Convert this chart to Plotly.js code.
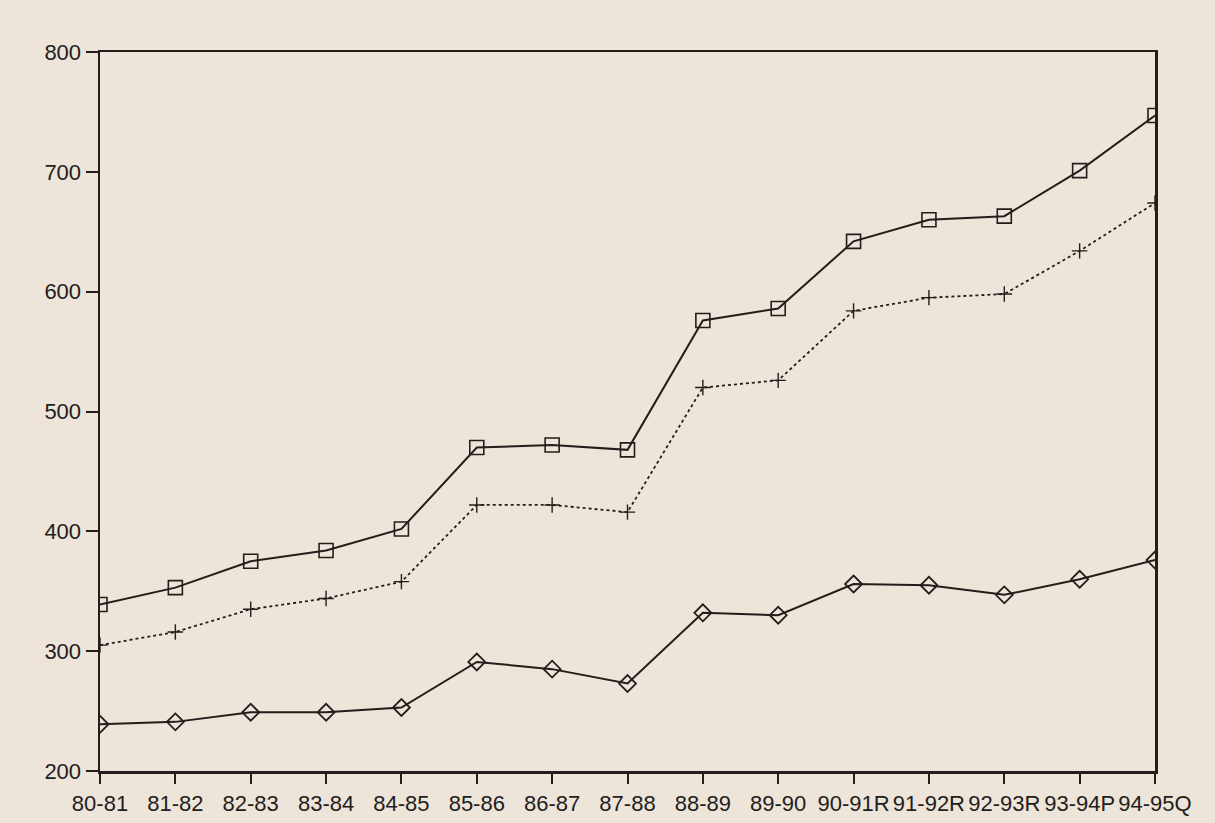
<!DOCTYPE html>
<html>
<head>
<meta charset="utf-8">
<script src="https://cdn.plot.ly/plotly-3.0.1.min.js"></script>
<style>
  html, body { margin: 0; padding: 0; background: #ede4da; }
  #chart { width: 1215px; height: 823px; }
</style>
</head>
<body>
<div id="chart"></div>
<script>
// Categories (years)
const years = ["80-81", "81-82", "82-83", "83-84", "84-85", "85-86", "86-87", "87-88",
               "88-89", "89-90", "90-91R", "91-92R", "92-93R", "93-94P", "94-95Q"];

// Series values
const seriesSquare  = [339, 353, 375, 384, 402, 470, 472, 468, 576, 586, 642, 660, 663, 701, 747];
const seriesCross   = [305, 316, 335, 344, 358, 422, 422, 416, 520, 526, 584, 595, 598, 634, 674];
const seriesDiamond = [239, 241, 249, 249, 253, 291, 285, 273, 332, 330, 356, 355, 347, 360, 376];

// Y-axis ticks
const yTicks = [200, 300, 400, 500, 600, 700, 800];

const ink = "#231e1b";

const traces = [
  {
    x: years, y: seriesSquare, type: "scatter", mode: "lines+markers",
    line: { color: ink, width: 2 },
    marker: { symbol: "square-open", size: 14, color: ink, line: { width: 1.6, color: ink } },
    name: "square"
  },
  {
    x: years, y: seriesCross, type: "scatter", mode: "lines+markers",
    line: { color: ink, width: 1.8, dash: "dot" },
    marker: { symbol: "cross-thin-open", size: 11, color: ink, line: { width: 1.4, color: ink } },
    name: "cross"
  },
  {
    x: years, y: seriesDiamond, type: "scatter", mode: "lines+markers",
    line: { color: ink, width: 2 },
    marker: { symbol: "diamond-open", size: 13, color: ink, line: { width: 1.8, color: ink } },
    name: "diamond"
  }
];

const layout = {
  width: 1215, height: 823,
  paper_bgcolor: "#ede4da",
  plot_bgcolor: "#ede4da",
  showlegend: false,
  margin: { l: 100, r: 60, t: 52, b: 52 },
  font: { family: "Liberation Sans, Arial, sans-serif", color: ink, size: 22 },
  xaxis: {
    type: "category",
    range: [0, 14],
    showgrid: false, zeroline: false,
    showline: true, linecolor: ink, linewidth: 2.5, mirror: true,
    ticks: "outside", ticklen: 10, tickwidth: 2, tickcolor: ink,
    tickangle: 0,
    ticklabelstandoff: 1,
    tickfont: { size: 22, color: ink }
  },
  yaxis: {
    range: [200, 800],
    tickvals: yTicks,
    ticktext: yTicks.map(String),
    showgrid: false, zeroline: false,
    showline: true, linecolor: ink, linewidth: 2.5, mirror: true,
    ticks: "outside", ticklen: 12, tickwidth: 2, tickcolor: ink,
    tickfont: { size: 22, color: ink }
  }
};

Plotly.newPlot("chart", traces, layout, { displayModeBar: false, staticPlot: true });
</script>
</body>
</html>
